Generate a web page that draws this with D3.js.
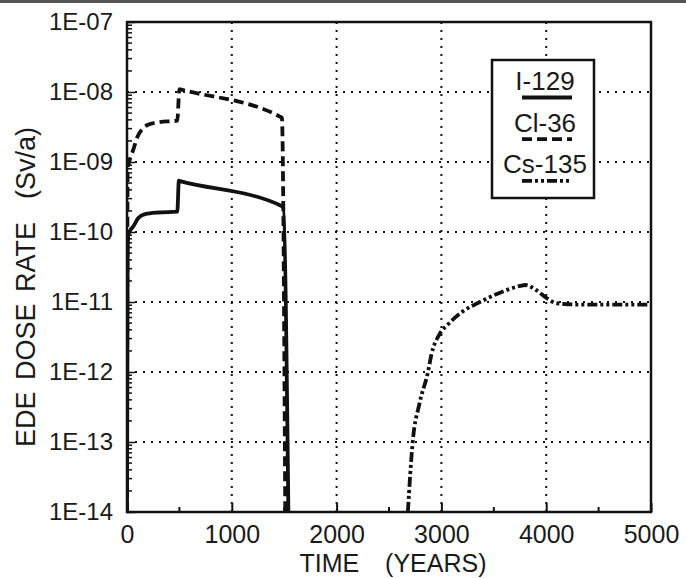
<!DOCTYPE html>
<html>
<head>
<meta charset="utf-8">
<script src="https://cdn.jsdelivr.net/npm/d3@7"></script>
<style>
  body { margin: 0; background: #fff; }
  svg text { font-family: "Liberation Sans", Arial, Helvetica, sans-serif; fill: #1a1a1a; }
</style>
</head>
<body>
<svg id="chart" width="686" height="578"></svg>
<script>
// データ (時間: 年, 線量率: Sv/a)
const i129Time = [0, 6, 12, 30, 60, 108, 172, 299, 480, 495, 515, 1490, 1540];
const i129Dose = [1e-14, 4e-11, 9e-11, 1.05e-10, 1.2e-10, 1.58e-10, 1.8e-10, 1.9e-10, 1.95e-10, 5.4e-10, 5.3e-10, 2.3e-10, 1e-14];

const cl36Time = [0, 6, 20, 60, 100, 150, 200, 300, 480, 500, 520, 1478, 1510];
const cl36Dose = [1e-14, 8e-10, 1e-9, 1.5e-9, 2.3e-9, 3e-9, 3.4e-9, 3.7e-9, 3.9e-9, 1.1e-8, 1.08e-8, 4.3e-9, 1e-14];

const cs135Time = [2680, 2726, 2790, 2872, 2904, 2984, 3064, 3208, 3368, 3529, 3753, 3800, 3913, 4000, 4100, 4300, 4600, 5000];
const cs135Dose = [1e-14, 1e-13, 3.5e-13, 1e-12, 1.75e-12, 3.5e-12, 4.8e-12, 7.4e-12, 1e-11, 1.3e-11, 1.7e-11, 1.75e-11, 1.45e-11, 1.15e-11, 9.6e-12, 9.2e-12, 9.2e-12, 9.2e-12];

const seriesNames = ["I-129", "Cl-36", "Cs-135"];
const xTicks = [0, 1000, 2000, 3000, 4000, 5000];
const yTicks = [1e-14, 1e-13, 1e-12, 1e-11, 1e-10, 1e-9, 1e-8, 1e-7];
const yTickLabels = ["1E-14", "1E-13", "1E-12", "1E-11", "1E-10", "1E-09", "1E-08", "1E-07"];

// レイアウト
const plotLeft = 127, plotRight = 651, plotTop = 22, plotBottom = 512;
const svg = d3.select("#chart");

const x = d3.scaleLinear().domain([0, 5000]).range([plotLeft, plotRight]);
const y = d3.scaleLog().domain([1e-14, 1e-7]).range([plotBottom, plotTop]);

// スキャンの上端の線
svg.append("rect").attr("x", 0).attr("y", 0).attr("width", 686).attr("height", 3).attr("fill", "#555");

// グリッド (点線)
const grid = svg.append("g").attr("stroke", "#111").attr("stroke-width", 2)
  .attr("stroke-dasharray", "2,6").attr("stroke-linecap", "butt");
grid.selectAll(".gx").data(xTicks.slice(1, -1)).join("line")
  .attr("class", "gx")
  .attr("x1", (d) => x(d)).attr("x2", (d) => x(d))
  .attr("y1", plotTop).attr("y2", plotBottom);
grid.selectAll(".gy").data(yTicks.slice(1, -1)).join("line")
  .attr("class", "gy")
  .attr("x1", plotLeft).attr("x2", plotRight)
  .attr("y1", (d) => y(d)).attr("y2", (d) => y(d));

// 曲線
svg.append("defs").append("clipPath").attr("id", "plot-clip")
  .append("rect").attr("x", plotLeft).attr("y", plotTop)
  .attr("width", plotRight - plotLeft).attr("height", plotBottom - plotTop);

const line = d3.line()
  .x((d) => x(d[0]))
  .y((d) => y(d[1]))
  .curve(d3.curveMonotoneX);

const series = [
  { name: seriesNames[0], t: i129Time, v: i129Dose, dash: null },
  { name: seriesNames[1], t: cl36Time, v: cl36Dose, dash: "10,5" },
  { name: seriesNames[2], t: cs135Time, v: cs135Dose, dash: "10,3,3,3,3,3" },
];

const lines = svg.append("g").attr("clip-path", "url(#plot-clip)");
series.forEach((s) => {
  lines.append("path")
    .datum(d3.zip(s.t, s.v))
    .attr("d", line)
    .attr("fill", "none")
    .attr("stroke", "#111")
    .attr("stroke-width", 3.8)
    .attr("stroke-dasharray", s.dash);
});

// 軸
const yAxis = svg.append("g")
  .attr("transform", `translate(${plotLeft},0)`)
  .call(d3.axisLeft(y).tickValues(yTicks).tickFormat((d, i) => yTickLabels[i])
    .tickSize(-8).tickPadding(14));
yAxis.select(".domain").remove();
yAxis.selectAll("line").attr("stroke", "#111").attr("stroke-width", 1.5);
yAxis.selectAll("text").style("font-size", "24px").style("fill", "#1a1a1a");

// 対数の補助目盛り
const minor = y.ticks().filter((d) => !yTicks.includes(d));
svg.append("g").selectAll("line").data(minor).join("line")
  .attr("x1", plotLeft).attr("x2", plotLeft + 5)
  .attr("y1", (d) => y(d)).attr("y2", (d) => y(d))
  .attr("stroke", "#111").attr("stroke-width", 1.5);

const xAxis = svg.append("g")
  .attr("transform", `translate(0,${plotBottom})`)
  .call(d3.axisBottom(x).tickValues(xTicks).tickFormat(d3.format("d"))
    .tickSize(-9).tickPadding(13));
xAxis.select(".domain").remove();
xAxis.selectAll("line").attr("stroke", "#111").attr("stroke-width", 2);
xAxis.selectAll("text").style("font-size", "25px").style("fill", "#1a1a1a");

svg.append("g").selectAll("line").data([500, 1500, 2500, 3500, 4500]).join("line")
  .attr("x1", (d) => x(d)).attr("x2", (d) => x(d))
  .attr("y1", plotBottom).attr("y2", plotBottom - 5)
  .attr("stroke", "#111").attr("stroke-width", 2);

// 枠
svg.append("rect")
  .attr("x", plotLeft).attr("y", plotTop)
  .attr("width", plotRight - plotLeft).attr("height", plotBottom - plotTop)
  .attr("fill", "none").attr("stroke", "#111").attr("stroke-width", 2.5);

// 軸ラベル
svg.append("text")
  .attr("transform", "translate(35,287) rotate(-90)")
  .attr("text-anchor", "middle")
  .style("font-size", "27px")
  .style("white-space", "pre")
  .style("word-spacing", "4px")
  .text("EDE DOSE RATE  (Sv/a)");

svg.append("text")
  .attr("x", 393).attr("y", 572)
  .attr("text-anchor", "middle")
  .style("font-size", "25px")
  .style("white-space", "pre")
  .style("word-spacing", "6px")
  .text("TIME  (YEARS)");

// 凡例
const legend = svg.append("g");
legend.append("rect")
  .attr("x", 492).attr("y", 60).attr("width", 102).attr("height", 138)
  .attr("fill", "#fff").attr("stroke", "#111").attr("stroke-width", 2.5);

const legendY = [90, 131.7, 173.3];
series.forEach((s, i) => {
  legend.append("text")
    .attr("x", 545).attr("y", legendY[i])
    .attr("text-anchor", "middle")
    .style("font-size", "26px")
    .text(s.name);
  legend.append("line")
    .attr("x1", 522).attr("x2", 572)
    .attr("y1", legendY[i] + 7.5).attr("y2", legendY[i] + 7.5)
    .attr("stroke", "#111").attr("stroke-width", 3.8)
    .attr("stroke-dasharray", s.dash);
});
</script>
</body>
</html>
